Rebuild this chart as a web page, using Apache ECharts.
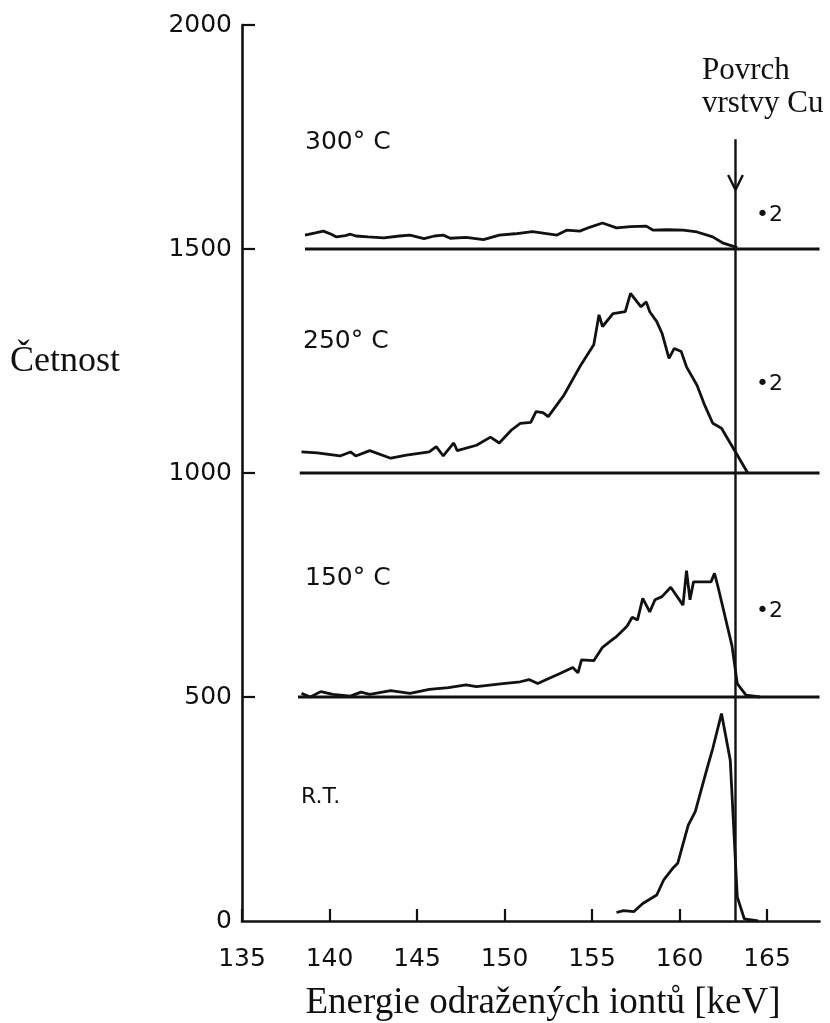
<!DOCTYPE html>
<html>
<head>
<meta charset="utf-8">
<script src="https://cdn.jsdelivr.net/npm/echarts@6/dist/echarts.min.js"></script>
<style>html,body{margin:0;padding:0;background:#fff}#c{width:830px;height:1023px}</style>
</head>
<body>
<div id="c"></div>
<script>
// ---- data ----
const xTicks = [135, 140, 145, 150, 155, 160, 165];
const yTicks = [0, 500, 1000, 1500, 2000];
const offsets = [1500, 1000, 500];          // zero levels of the shifted spectra
const baseStart = [138.6, 138.3, 138.2];     // keV where each shifted baseline begins
const surfaceE = 163.2;                      // "Povrch vrstvy Cu" marker

const e300 = [138.6,139.2,139.65,140.1,140.4,140.9,141.2,141.5,142.2,143.1,144.0,144.6,145.0,145.4,146.0,146.5,146.9,147.8,148.8,149.7,150.6,151.6,152.3,153.0,153.55,154.3,154.9,155.6,156.4,157.2,158.1,158.5,159.3,160.2,161.0,161.9,162.5,163.3];
const v300 = [1531,1536,1540,1533,1527,1530,1533,1529,1527,1525,1529,1531,1527,1523,1529,1531,1524,1526,1521,1531,1534,1539,1535,1531,1542,1540,1549,1558,1547,1550,1551,1542,1543,1542,1538,1527,1513,1503];

const e250 = [138.4,139.3,140.6,141.2,141.5,142.3,143.5,144.4,145.7,146.1,146.5,147.1,147.3,148.4,149.2,149.7,150.4,150.9,151.5,151.8,152.2,152.5,153.4,154.3,155.1,155.4,155.6,156.2,156.9,157.2,157.5,157.8,158.1,158.3,158.7,159.0,159.4,159.7,160.1,160.4,161.0,161.4,161.9,162.4,163.3,163.9];
const v250 = [1047,1045,1038,1047,1038,1050,1033,1040,1047,1059,1038,1067,1050,1062,1080,1067,1096,1111,1113,1137,1135,1126,1174,1237,1286,1353,1327,1356,1360,1401,1386,1371,1382,1360,1338,1312,1256,1278,1271,1237,1196,1155,1111,1100,1040,1000];

const e150 = [138.4,138.9,139.5,140.2,141.2,141.8,142.3,143.5,144.6,145.7,146.8,147.8,148.4,149.9,150.9,151.4,151.9,152.4,153.2,153.9,154.2,154.4,155.1,155.6,156.2,156.4,157.0,157.3,157.6,157.9,158.3,158.6,159.0,159.5,160.2,160.4,160.6,160.8,161.8,162.0,162.2,163.0,163.3,163.8,164.6];
const v150 = [508,500,512,506,502,511,506,514,508,517,521,527,523,530,534,539,530,539,553,566,554,583,581,611,629,635,658,678,672,720,690,717,724,745,705,782,717,757,757,776,746,614,530,504,500];

const eRT = [156.4,156.8,157.4,157.9,158.7,159.1,159.6,159.9,160.5,160.9,161.6,161.9,162.4,162.9,163.3,163.7,164.5];
const vRT = [19,23,21,39,58,92,117,129,214,244,344,385,463,359,54,5,0];

const tempLabels = ['300° C', '250° C', '150° C', 'R.T.'];
const scaleLabel = '•2';

// ---- chart ----
const X_MIN = 135, X_MAX = 168;
const zip = (a, b) => a.map((x, i) => [x, b[i]]);
const mk = (data, w) => ({
  type: 'line', data, symbol: 'none', silent: true, animation: false,
  lineStyle: { color: '#111', width: w || 2.8 }
});

const series = [
  mk(zip(e300, v300)), mk(zip(e250, v250)), mk(zip(e150, v150)), mk(zip(eRT, vRT)),
  ...offsets.map((o, i) => mk([[baseStart[i], o], [X_MAX, o]], 2.8)),
  mk([[surfaceE, 0], [surfaceE, 1745]], 2.4),
  mk([[surfaceE - 0.42, 1665], [surfaceE, 1632], [surfaceE + 0.42, 1665]], 2.4)
];

const sans = 'DejaVu Sans';
const serif = 'Liberation Serif';
const txt = (text, x, y, size, font, align) => ({
  type: 'text', x, y, silent: true,
  style: { text, fill: '#111', font: size + 'px "' + font + '"', textAlign: align || 'left', textVerticalAlign: 'middle' }
});

const chart = echarts.init(document.getElementById('c'), null, { renderer: 'canvas' });
chart.setOption({
  backgroundColor: '#fff',
  animation: false,
  grid: { left: 242, right: 10.5, top: 25, bottom: 102, containLabel: false },
  xAxis: {
    type: 'value', min: X_MIN, max: X_MAX, interval: 5,
    axisLine: { lineStyle: { color: '#111', width: 2.6 } },
    axisTick: { show: true, inside: true, length: 12, customValues: xTicks, lineStyle: { color: '#111', width: 2.2 } },
    axisLabel: { customValues: xTicks, color: '#111', fontFamily: sans, fontSize: 25, margin: 26, formatter: v => String(v) },
    splitLine: { show: false }
  },
  yAxis: {
    type: 'value', min: 0, max: 2000, interval: 500,
    axisLine: { show: true, lineStyle: { color: '#111', width: 2.6 } },
    axisTick: { show: true, inside: true, length: 13, customValues: yTicks.slice(1), lineStyle: { color: '#111', width: 2.2 } },
    axisLabel: { customValues: yTicks, color: '#111', fontFamily: sans, fontSize: 25, margin: 10, formatter: v => String(v) },
    splitLine: { show: false }
  },
  series,
  graphic: [
    txt(tempLabels[0], 305, 142, 25, sans),
    txt(tempLabels[1], 303, 341, 25, sans),
    txt(tempLabels[2], 305, 578, 25, sans),
    txt(tempLabels[3], 301, 797, 22, sans),
    txt(scaleLabel, 756, 215, 22, sans),
    txt(scaleLabel, 756, 384, 22, sans),
    txt(scaleLabel, 756, 611, 22, sans),
    txt('Povrch', 702, 71, 31, serif),
    txt('vrstvy Cu', 702, 104, 31, serif),
    txt('Četnost', 10, 362, 36, serif),
    txt('Energie odražených iontů [keV]', 543, 1003, 37, serif, 'center')
  ]
});
</script>
</body>
</html>
